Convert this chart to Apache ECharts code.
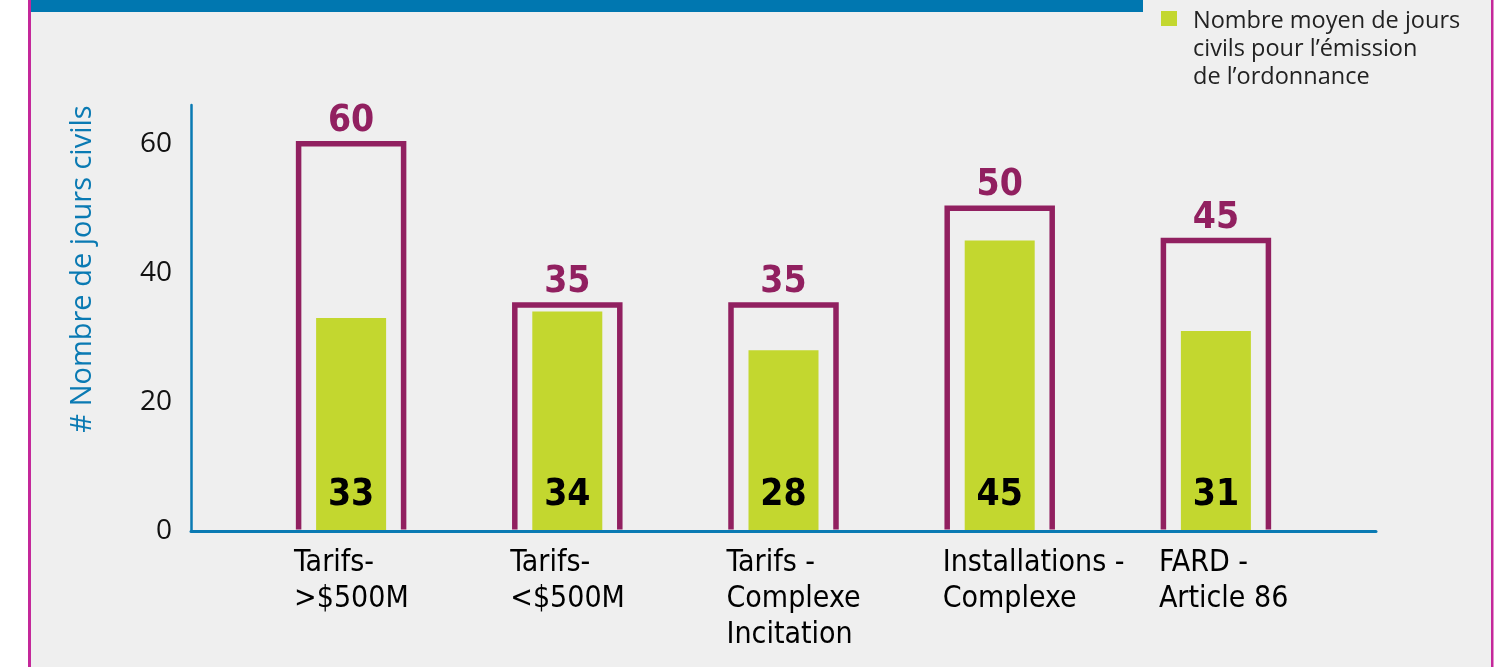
<!DOCTYPE html>
<html>
<head>
<meta charset="utf-8">
<script src="https://cdn.jsdelivr.net/npm/echarts@6/dist/echarts.min.js"></script>
<style>
  html, body { margin: 0; padding: 0; background: #ffffff; }
  #chart { width: 1505px; height: 667px; }
</style>
</head>
<body>
<div id="chart"></div>
<script>
// ---- data ----
var categories = [
  'Tarifs-\n>$500M',
  'Tarifs-\n<$500M',
  'Tarifs -\nComplexe\nIncitation',
  'Installations -\nComplexe',
  'FARD -\nArticle 86'
];
var actualDays = [33, 34, 28, 45, 31];
var targetDays = [60, 35, 35, 50, 45];
var legendLabel = 'Nombre moyen de jours\ncivils pour l\u2019\u00e9mission\nde l\u2019ordonnance';
var yAxisTitle = '# Nombre de jours civils';

// ---- styles ----
var GREEN = '#c3d72f';
var PURPLE = '#912060';
var BLUE = '#0a7ab3';
var MAGENTA = '#c4289a';
var BG = '#efefef';
var NARROW = '"Liberation Sans Narrow", "DejaVu Sans Condensed", "Roboto", sans-serif';
var SANS = '"Open Sans", "Lato", sans-serif';
var Y_MAX = 66;

var chart = echarts.init(document.getElementById('chart'), null, { renderer: 'canvas' });

var option = {
  backgroundColor: '#ffffff',
  animation: false,
  graphic: [
    { type: 'rect', z: -10, shape: { x: 30, y: 0, width: 1462, height: 667 }, style: { fill: BG } },
    { type: 'rect', z: -5, shape: { x: 28, y: 0, width: 3, height: 667 }, style: { fill: MAGENTA } },
    { type: 'rect', z: -5, shape: { x: 1491, y: 0, width: 2.5, height: 667 }, style: { fill: MAGENTA } },
    { type: 'rect', z: -5, shape: { x: 31, y: 0, width: 1112, height: 12 }, style: { fill: '#0077b0' } }
  ],
  legend: {
    left: 1156,
    top: 2,
    icon: 'path://M0,0H16V15H0Z M0,76L0.01,76L0,75.99Z',
    itemWidth: 16,
    itemHeight: 76,
    selectedMode: false,
    data: [legendLabel],
    textStyle: {
      fontFamily: SANS,
      fontSize: 23.5,
      lineHeight: 28,
      color: '#222222',
      padding: [0, 0, 0, 11]
    }
  },
  grid: [
    { left: 191, right: 129, top: 105, bottom: 136 },
    { left: 243, right: 181, top: 105, bottom: 136 },
    { left: 186, right: 238, top: 105, bottom: 136 }
  ],
  xAxis: [
    {
      type: 'value', gridIndex: 0, min: 0, max: 1, z: 5,
      axisLine: { show: true, lineStyle: { color: BLUE, width: 3 } },
      axisTick: { show: false }, axisLabel: { show: false }, splitLine: { show: false }
    },
    {
      type: 'category', gridIndex: 1, data: categories,
      axisLine: { show: false }, axisTick: { show: false }, axisLabel: { show: false }
    },
    {
      type: 'category', gridIndex: 2, data: categories,
      axisLine: { show: false }, axisTick: { show: false },
      axisLabel: {
        interval: 0,
        align: 'left',
        margin: 14,
        fontFamily: NARROW,
        fontSize: 30,
        lineHeight: 36,
        color: '#000000'
      }
    }
  ],
  yAxis: [
    {
      type: 'value', gridIndex: 0, min: 0, max: Y_MAX, interval: 20,
      name: yAxisTitle,
      nameLocation: 'middle',
      nameGap: 94,
      nameTextStyle: { color: BLUE, fontFamily: SANS, fontSize: 29, padding: [0, 0, 0, 98] },
      axisLine: { show: true, lineStyle: { color: BLUE, width: 2.5 } },
      axisTick: { show: false },
      splitLine: { show: false },
      axisLabel: {
        showMaxLabel: false,
        margin: 19,
        fontFamily: SANS,
        fontSize: 28,
        color: '#111111',
        padding: [0, 0, 9, 0]
      }
    },
    { type: 'value', gridIndex: 1, min: 0, max: Y_MAX, show: false },
    { type: 'value', gridIndex: 2, min: 0, max: Y_MAX, show: false }
  ],
  series: [
    {
      name: legendLabel,
      type: 'bar',
      xAxisIndex: 1,
      yAxisIndex: 1,
      barWidth: 70,
      data: actualDays,
      itemStyle: { color: GREEN },
      label: {
        show: true,
        position: 'insideBottom',
        distance: 17,
        fontFamily: NARROW,
        fontWeight: 'bold',
        fontSize: 37,
        color: '#000000'
      },
      z: 2
    },
    {
      name: 'cible',
      type: 'custom',
      xAxisIndex: 1,
      yAxisIndex: 1,
      data: targetDays.map(function (v, i) { return [i, v]; }),
      z: 3,
      renderItem: function (params, api) {
        var idx = api.value(0);
        var v = api.value(1);
        var top = api.coord([idx, v]);
        var base = api.coord([idx, 0]);
        var hw = 52.5;
        return {
          type: 'group',
          children: [
            {
              type: 'polyline',
              shape: { points: [[top[0] - hw, base[1] - 1.5], [top[0] - hw, top[1]], [top[0] + hw, top[1]], [top[0] + hw, base[1] - 1.5]] },
              style: { fill: null, stroke: PURPLE, lineWidth: 5.5 }
            },
            {
              type: 'text',
              x: top[0],
              y: top[1] - 4,
              style: {
                text: String(v),
                fill: PURPLE,
                font: 'bold 37px ' + NARROW,
                align: 'center',
                verticalAlign: 'bottom'
              }
            }
          ]
        };
      }
    }
  ]
};

chart.setOption(option);
</script>
</body>
</html>
